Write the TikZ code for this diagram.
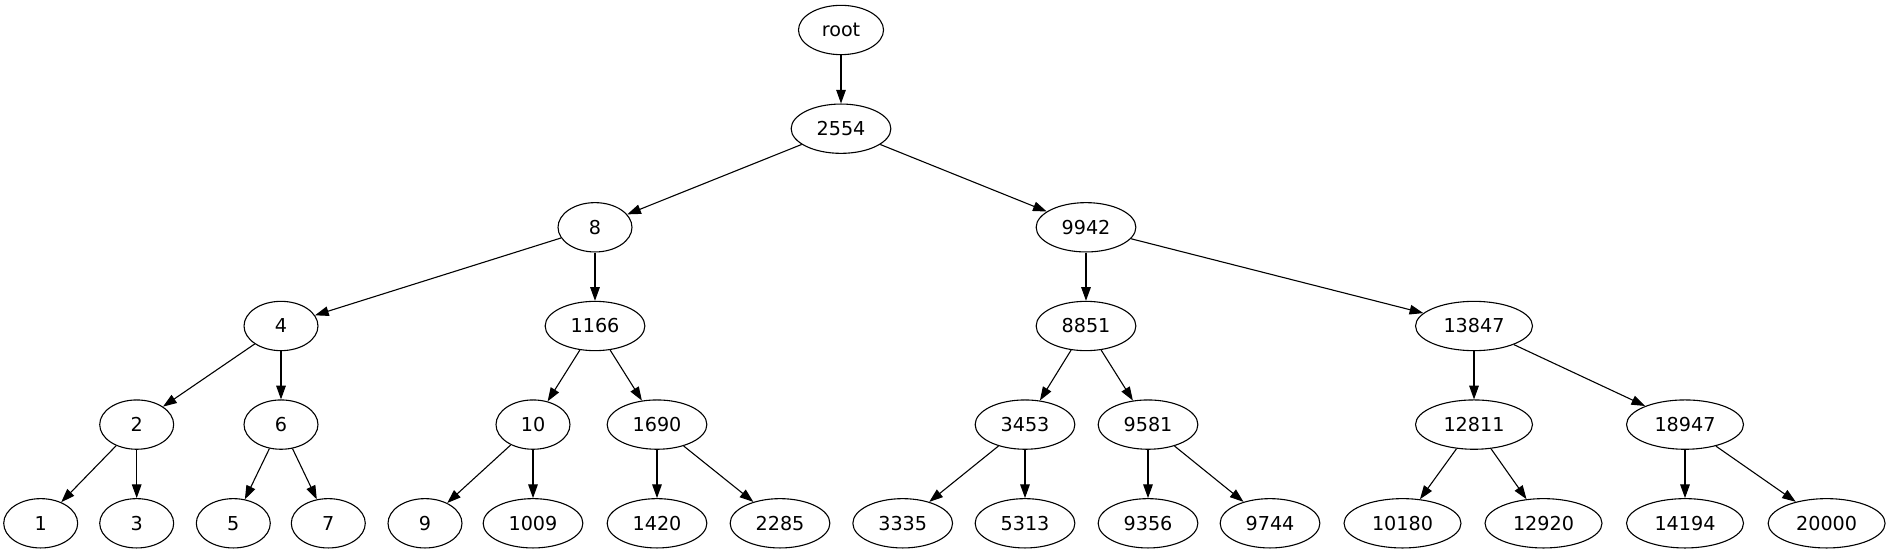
\documentclass[tikz,border=0pt]{standalone}
\usepackage{fontspec}
\setmainfont{DejaVu Sans}
\usetikzlibrary{
arrows.meta,
shapes
}

\begin{document}
\begin{tikzpicture}[
    x=0.73pt, y=-0.73pt,
    >={Triangle[length=10pt,width=7pt]},
    key/.style={draw, ellipse,
      line width=0.8pt,
      font=\fontsize{14pt}{16pt}\selectfont,
      minimum width=54pt,
      minimum height=36pt,
      inner xsep=7.92pt,
      inner ysep=2pt},
    link/.style={->, line width=0.8pt}
  ]
  \useasboundingbox (0,0) rectangle (1891,555);

  \node[key] (root) at (841,30) {root};
  \node[key] (n2554) at (841,128.7) {2554};

  \node[key] (n8) at (595,227.3) {8};
  \node[key] (n9942) at (1086,227.3) {9942};

  \node[key] (n4) at (281,326) {4};
  \node[key] (n1166) at (595,326) {1166};
  \node[key] (n8851) at (1086,326) {8851};
  \node[key] (n13847) at (1474,326) {13847};

  \node[key] (n2) at (136.7,424.6) {2};
  \node[key] (n6) at (281,424.6) {6};
  \node[key] (n10) at (533,424.6) {10};
  \node[key] (n1690) at (657,424.6) {1690};
  \node[key] (n3453) at (1025,424.6) {3453};
  \node[key] (n9581) at (1148,424.6) {9581};
  \node[key] (n12811) at (1474,424.6) {12811};
  \node[key] (n18947) at (1685,424.6) {18947};

  \node[key] (n1) at (40.7,523.3) {1};
  \node[key] (n3) at (136.7,523.3) {3};
  \node[key] (n5) at (233.3,523.3) {5};
  \node[key] (n7) at (328.3,523.3) {7};
  \node[key] (n9) at (425,523.3) {9};
  \node[key] (n1009) at (533,523.3) {1009};
  \node[key] (n1420) at (657,523.3) {1420};
  \node[key] (n2285) at (780,523.3) {2285};
  \node[key] (n3335) at (902.7,523.3) {3335};
  \node[key] (n5313) at (1025,523.3) {5313};
  \node[key] (n9356) at (1148,523.3) {9356};
  \node[key] (n9744) at (1270,523.3) {9744};
  \node[key] (n10180) at (1402.5,523.3) {10180};
  \node[key] (n12920) at (1543.5,523.3) {12920};
  \node[key] (n14194) at (1685,523.3) {14194};
  \node[key] (n20000) at (1826.6,523.3) {20000};

  \draw[link] (root) -- (n2554);
  \draw[link] (n2554) -- (n8);
  \draw[link] (n2554) -- (n9942);
  \draw[link] (n8) -- (n4);
  \draw[link] (n8) -- (n1166);
  \draw[link] (n9942) -- (n8851);
  \draw[link] (n9942) -- (n13847);
  \draw[link] (n4) -- (n2);
  \draw[link] (n4) -- (n6);
  \draw[link] (n1166) -- (n10);
  \draw[link] (n1166) -- (n1690);
  \draw[link] (n8851) -- (n3453);
  \draw[link] (n8851) -- (n9581);
  \draw[link] (n13847) -- (n12811);
  \draw[link] (n13847) -- (n18947);
  \draw[link] (n2) -- (n1);
  \draw[link] (n2) -- (n3);
  \draw[link] (n6) -- (n5);
  \draw[link] (n6) -- (n7);
  \draw[link] (n10) -- (n9);
  \draw[link] (n10) -- (n1009);
  \draw[link] (n1690) -- (n1420);
  \draw[link] (n1690) -- (n2285);
  \draw[link] (n3453) -- (n3335);
  \draw[link] (n3453) -- (n5313);
  \draw[link] (n9581) -- (n9356);
  \draw[link] (n9581) -- (n9744);
  \draw[link] (n12811) -- (n10180);
  \draw[link] (n12811) -- (n12920);
  \draw[link] (n18947) -- (n14194);
  \draw[link] (n18947) -- (n20000);
\end{tikzpicture}
\end{document}
